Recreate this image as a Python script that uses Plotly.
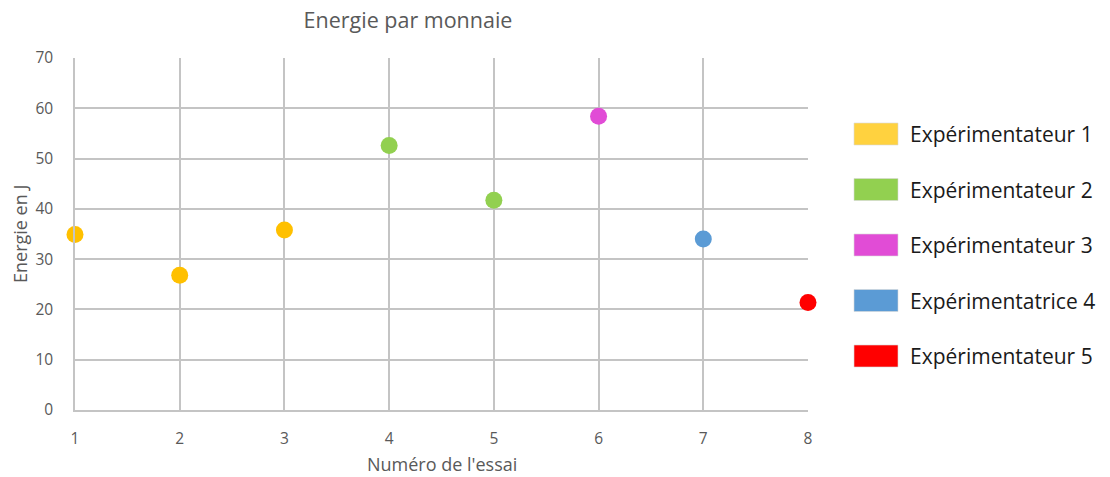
import plotly.graph_objects as go

# Energy per coin, one series per experimenter
series_names = ["Expérimentateur 1", "Expérimentateur 2", "Expérimentateur 3",
                "Expérimentatrice 4", "Expérimentateur 5"]
essai_1 = [1, 2, 3]
energie_1 = [34.9, 26.8, 35.8]
essai_2 = [4, 5]
energie_2 = [52.6, 41.7]
essai_3 = [6]
energie_3 = [58.4]
essai_4 = [7]
energie_4 = [34.0]
essai_5 = [8]
energie_5 = [21.4]

point_colors = ["#FFC000", "#92D050", "#E14CD6", "#5B9BD5", "#FF0000"]
swatch_colors = ["#FFD23F", "#92D050", "#E14CD6", "#5B9BD5", "#FF0000"]

x_ticks = [1, 2, 3, 4, 5, 6, 7, 8]
y_ticks = [0, 10, 20, 30, 40, 50, 60, 70]

FONT = "Open Sans"
GREY = "#595959"
GRID = "#c4c4c4"

W, H = 1110, 477
ML, MR, MT, MB = 75, 302, 58, 67

fig = go.Figure()
xs = [essai_1, essai_2, essai_3, essai_4, essai_5]
ys = [energie_1, energie_2, energie_3, energie_4, energie_5]
for name, x, y, c in zip(series_names, xs, ys, point_colors):
    fig.add_trace(go.Scatter(
        x=x, y=y, mode="markers", name=name, showlegend=False,
        cliponaxis=False,
        marker=dict(size=17, color=c, line=dict(width=0)),
    ))

# Legend drawn as colour swatches with labels to the right of the plot
plot_w = W - ML - MR
plot_h = H - MT - MB
row0, step = 134, 55.5
for i, (name, c) in enumerate(zip(series_names, swatch_colors)):
    yc = row0 + i * step
    y_top = 1 - (yc - 11 - MT) / plot_h
    y_bot = 1 - (yc + 11 - MT) / plot_h
    fig.add_shape(type="rect", xref="paper", yref="paper",
                  x0=(854 - ML) / plot_w, x1=(898 - ML) / plot_w,
                  y0=y_bot, y1=y_top, fillcolor=c, line=dict(width=0.6, color="#d9d9d9"),
                  layer="above")
    fig.add_annotation(xref="paper", yref="paper",
                       x=(908 - ML) / plot_w, y=1 - (yc - MT) / plot_h,
                       xanchor="left", yanchor="middle", showarrow=False,
                       text=name, font=dict(family=FONT, size=21, color="#1a1a1a"))

# Axis titles
fig.add_annotation(xref="paper", yref="paper", x=0.5, y=-(464 - (H - MB)) / plot_h,
                   xanchor="center", yanchor="middle", showarrow=False,
                   text="Numéro de l'essai", font=dict(family=FONT, size=18, color=GREY))
fig.add_annotation(xref="paper", yref="paper", x=-(ML - 20) / plot_w, y=0.5,
                   xanchor="center", yanchor="middle", showarrow=False, textangle=-90,
                   text="Energie en J", font=dict(family=FONT, size=18, color=GREY))

fig.update_layout(
    width=W, height=H,
    margin=dict(l=ML, r=MR, t=MT, b=MB, pad=0),
    paper_bgcolor="white", plot_bgcolor="white",
    font=dict(family=FONT, color=GREY),
    title=dict(text="Energie par monnaie", x=408 / W, xref="container", xanchor="center",
               y=1 - 20 / H, yref="container", yanchor="middle",
               font=dict(family=FONT, size=21.5, color=GREY)),
    xaxis=dict(range=[1, 8], tickvals=x_ticks, showgrid=True, gridcolor=GRID, gridwidth=1.5,
               zeroline=False, showline=True, linecolor=GRID, linewidth=1.5, mirror=False,
               ticks="outside", ticklen=0, ticklabelstandoff=14,
               tickfont=dict(family=FONT, size=15.5, color=GREY), fixedrange=True),
    yaxis=dict(range=[0, 70], tickvals=y_ticks, showgrid=True, gridcolor=GRID, gridwidth=1.5,
               zeroline=False, showline=True, linecolor=GRID, linewidth=1.5,
               ticks="outside", ticklen=0, ticklabelstandoff=17,
               tickfont=dict(family=FONT, size=15.5, color=GREY), fixedrange=True),
)

fig.write_html("out.html")
